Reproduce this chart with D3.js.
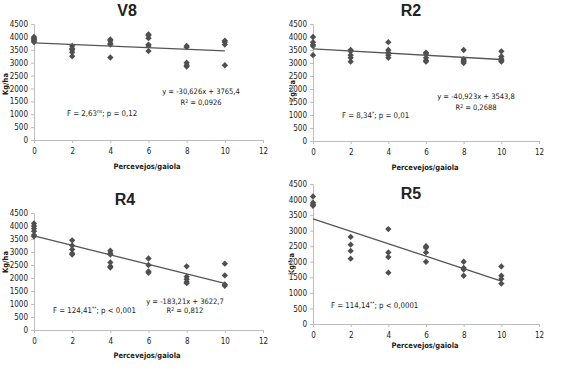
<!DOCTYPE html>
<html>
<head>
<meta charset="utf-8">
<script src="https://cdn.jsdelivr.net/npm/d3@7"></script>
<style>
  body { margin: 0; background: #fff; }
  text { font-family: "Liberation Sans Narrow", "DejaVu Sans Condensed", "Liberation Sans", sans-serif; fill: #222; }
</style>
</head>
<body>
<div id="chart"></div>
<script>
// values
const xTicks = [0, 2, 4, 6, 8, 10, 12];
const yTicks = [0, 500, 1000, 1500, 2000, 2500, 3000, 3500, 4000, 4500];
const doses = [0, 2, 4, 6, 8, 10];

// kg/ha per cage density, one inner list per dose
const v8Kg = [
    [4000, 3950, 3900, 3850, 3800],
    [3650, 3550, 3500, 3400, 3250],
    [3900, 3850, 3750, 3700, 3200],
    [4100, 4050, 3950, 3700, 3650, 3450],
    [3650, 3600, 3000, 2900, 2850],
    [3850, 3800, 3700, 2900]
];
const r2Kg = [
    [4000, 3800, 3700, 3650, 3300],
    [3500, 3450, 3300, 3200, 3050],
    [3800, 3500, 3400, 3300, 3200],
    [3400, 3350, 3200, 3100, 3050],
    [3500, 3150, 3100, 3050, 3000],
    [3450, 3250, 3150, 3100, 3050]
];
const r4Kg = [
    [4100, 4000, 3900, 3800, 3650, 3600],
    [3450, 3250, 3100, 2950, 2900],
    [3050, 2950, 2900, 2600, 2450, 2400],
    [2750, 2500, 2250, 2200],
    [2450, 2050, 1950, 1850, 1800],
    [2550, 2100, 1750, 1700]
];
const r5Kg = [
    [4100, 3900, 3850, 3800],
    [2800, 2550, 2350, 2100],
    [3050, 2300, 2150, 1650],
    [2500, 2450, 2300, 2000],
    [2000, 1800, 1750, 1550],
    [1850, 1550, 1450, 1300]
];

const titles = ["V8", "R2", "R4", "R5"];
const slopes = [-30.626, -40.923, -183.21, -200];
const intercepts = [3765.4, 3543.8, 3622.7, 3380];
const equations = ["y = -30,626x + 3765,4", "y = -40,923x + 3543,8", "y = -183,21x + 3622,7", null];
const r2Values = ["0,0926", "0,2688", "0,812", null];
const fStats = [
    ["F = 2,63", "ns", "; p = 0,12"],
    ["F = 8,34", "*", "; p = 0,01"],
    ["F = 124,41", "**", "; p  < 0,001"],
    ["F = 114,14", "**", "; p < 0,0001"]
];

// panel boxes (plot area) and text placement
const panels = [
    { left: 34, right: 263, top: 24, bottom: 140, title: [127, 16], ylab: [5, 84], xlab: [147, 169],
      eq: [167, 70], rsq: [167, 81], f: [33, 92] },
    { left: 313, right: 539, top: 24, bottom: 141, title: [411, 16], ylab: [292, 91], xlab: [425, 170],
      eq: [163, 75], rsq: [163, 86], f: [29, 94] },
    { left: 34, right: 263, top: 213, bottom: 330, title: [125, 205], ylab: [5, 262], xlab: [147, 358],
      eq: [151, 91], rsq: [151, 100], f: [19, 100] },
    { left: 313, right: 539, top: 184, bottom: 324, title: [411, 199], ylab: [291, 264], xlab: [425, 348],
      eq: null, rsq: null, f: [18, 124] }
];

const allKg = [v8Kg, r2Kg, r4Kg, r5Kg];

const svg = d3.select("#chart").append("svg")
    .attr("width", 567)
    .attr("height", 372);

const axisColor = "#bdbdbd";
const markColor = "#4f4f4f";

panels.forEach(function (p, i) {
    let x = d3.scaleLinear().domain([0, 12]).range([p.left, p.right]);
    let y = d3.scaleLinear().domain([0, 4500]).range([p.bottom, p.top]);

    // y title first, tick labels get painted over it (as in the original)
    svg.append("text")
        .attr("transform", "translate(" + p.ylab[0] + "," + p.ylab[1] + ") rotate(-90)")
        .attr("text-anchor", "middle")
        .attr("dy", "0.35em")
        .style("font-size", "7.5px")
        .style("font-weight", "bold")
        .text("Kg/ha");

    // axes
    let xAxis = svg.append("g")
        .attr("transform", "translate(0," + p.bottom + ")")
        .call(d3.axisBottom(x).tickValues(xTicks).tickFormat(d3.format("d")).tickSize(3).tickPadding(5));
    let yAxis = svg.append("g")
        .attr("transform", "translate(" + p.left + ",0)")
        .call(d3.axisLeft(y).tickValues(yTicks).tickFormat(d3.format("d")).tickSize(3).tickPadding(3));

    [xAxis, yAxis].forEach(function (a) {
        a.select(".domain").attr("stroke", axisColor);
        a.selectAll(".tick line").attr("stroke", axisColor);
        a.selectAll(".tick text")
            .style("font-size", "8px")
            .style("font-family", "'Liberation Sans Narrow', 'DejaVu Sans Condensed', sans-serif")
            .attr("fill", "#222")
            .attr("stroke", "#fff")
            .attr("stroke-width", 1.2)
            .style("paint-order", "stroke");
    });

    // points
    let pts = [];
    allKg[i].forEach(function (vals, j) {
        vals.forEach(function (v) { pts.push([doses[j], v]); });
    });
    svg.append("g").selectAll("path")
        .data(pts)
        .enter()
        .append("path")
        .attr("d", d3.symbol().type(d3.symbolSquare).size(20))
        .attr("transform", function (d) {
            return "translate(" + x(d[0]) + "," + y(d[1]) + ") rotate(45)";
        })
        .attr("fill", markColor);

    // regression line
    let fit = [0, 10].map(function (d) { return [d, intercepts[i] + slopes[i] * d]; });
    svg.append("path")
        .datum(fit)
        .attr("d", d3.line().x(function (d) { return x(d[0]); }).y(function (d) { return y(d[1]); }))
        .attr("stroke", "#555")
        .attr("stroke-width", 1.3)
        .attr("fill", "none");

    // title
    svg.append("text")
        .attr("x", p.title[0])
        .attr("y", p.title[1])
        .attr("text-anchor", "middle")
        .style("font-size", "16px")
        .style("font-weight", "bold")
        .style("font-family", "'Liberation Sans', sans-serif")
        .text(titles[i]);

    svg.append("text")
        .attr("x", p.xlab[0])
        .attr("y", p.xlab[1])
        .attr("text-anchor", "middle")
        .style("font-size", "7.5px")
        .style("font-weight", "bold")
        .text("Percevejos/gaiola");

    // equation + R²
    if (p.eq) {
        svg.append("text")
            .attr("x", p.left + p.eq[0])
            .attr("y", p.top + p.eq[1])
            .attr("text-anchor", "middle")
            .style("font-size", "7.5px")
            .text(equations[i]);

        let r = svg.append("text")
            .attr("x", p.left + p.rsq[0])
            .attr("y", p.top + p.rsq[1])
            .attr("text-anchor", "middle")
            .style("font-size", "7.5px");
        r.append("tspan").text("R");
        r.append("tspan").attr("dy", -2.5).style("font-size", "5px").text("2");
        r.append("tspan").attr("dy", 2.5).text(" = " + r2Values[i]);
    }

    // F statistic
    let f = svg.append("text")
        .attr("x", p.left + p.f[0])
        .attr("y", p.top + p.f[1])
        .style("font-size", "7.8px");
    f.append("tspan").text(fStats[i][0]);
    f.append("tspan").attr("dy", -3).style("font-size", "5px").text(fStats[i][1]);
    f.append("tspan").attr("dy", 3).text(fStats[i][2]);
});
</script>
</body>
</html>
